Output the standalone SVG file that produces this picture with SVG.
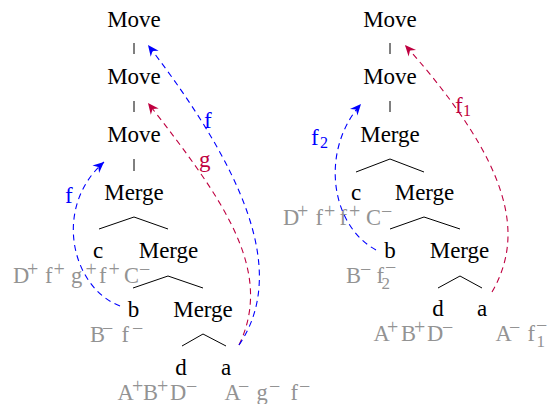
<svg xmlns="http://www.w3.org/2000/svg" width="554" height="404" viewBox="0 0 554 404" font-family="'Liberation Serif', 'Times New Roman', serif">
<style>
text{font-family:"Liberation Serif","Times New Roman",serif}
.n{font-size:23px;fill:#000;text-anchor:middle}
.g{font-size:22.5px;fill:#939393}
.g .s{font-size:20px}
.g .b{font-size:17px}
.e{stroke:#000;stroke-width:1;fill:none}
.c{fill:none;stroke-width:1.1;stroke-dasharray:6 4.5}
.blue{stroke:#0000ff}
.red{stroke:#bf0040}
.lb{font-size:23px}
.lb .b{font-size:16px}
</style>
<defs>
<marker id="ab" viewBox="-12 -6 13 12" refX="0" refY="0" markerWidth="13" markerHeight="12" markerUnits="userSpaceOnUse" orient="auto"><path d="M0,0 L-11,-5 L-7.5,0 L-11,5 Z" fill="#0000ff"/></marker>
<marker id="ar" viewBox="-12 -6 13 12" refX="0" refY="0" markerWidth="13" markerHeight="12" markerUnits="userSpaceOnUse" orient="auto"><path d="M0,0 L-11,-5 L-7.5,0 L-11,5 Z" fill="#bf0040"/></marker>
</defs>

<!-- Left tree -->
<g id="L_move1"><text class="n" x="134" y="27">Move</text></g>
<g id="L_move2"><text class="n" x="134" y="84">Move</text></g>
<g id="L_move3"><text class="n" x="134" y="142">Move</text></g>
<g id="L_merge1"><text class="n" x="134" y="200">Merge</text></g>
<g id="L_c"><text class="n" x="98" y="258">c</text>
<text class="g"><tspan x="13" y="283">D</tspan><tspan class="s" x="27" y="276">+</tspan><tspan x="45" y="283">f</tspan><tspan class="s" x="53.5" y="276">+</tspan><tspan x="71" y="283">g</tspan><tspan class="s" x="85.5" y="276">+</tspan><tspan x="99" y="283">f</tspan><tspan class="s" x="108.5" y="276">+</tspan><tspan x="124" y="283">C</tspan><tspan class="s" x="139" y="276">−</tspan></text></g>
<g id="L_merge2"><text class="n" x="168.5" y="258">Merge</text></g>
<g id="L_b"><text class="n" x="133.5" y="317">b</text>
<text class="g"><tspan x="90" y="342">B</tspan><tspan class="s" x="102" y="335">−</tspan><tspan x="121.5" y="342">f</tspan><tspan class="s" x="132" y="335">−</tspan></text></g>
<g id="L_merge3"><text class="n" x="203" y="317">Merge</text></g>
<g id="L_d"><text class="n" x="181" y="375">d</text>
<text class="g"><tspan x="117.5" y="400">A</tspan><tspan class="s" x="132" y="393">+</tspan><tspan x="143" y="400">B</tspan><tspan class="s" x="157" y="393">+</tspan><tspan x="170" y="400">D</tspan><tspan class="s" x="186" y="393">−</tspan></text></g>
<g id="L_a"><text class="n" x="226" y="375">a</text>
<text class="g"><tspan x="224.5" y="400">A</tspan><tspan class="s" x="238" y="393">−</tspan><tspan x="256.5" y="400">g</tspan><tspan class="s" x="269" y="393">−</tspan><tspan x="290.5" y="400">f</tspan><tspan class="s" x="299" y="393">−</tspan></text></g>

<!-- Right tree -->
<g id="R_move1"><text class="n" x="390" y="27">Move</text></g>
<g id="R_move2"><text class="n" x="390" y="84">Move</text></g>
<g id="R_merge1"><text class="n" x="390" y="142">Merge</text></g>
<g id="R_c"><text class="n" x="356" y="200">c</text>
<text class="g"><tspan x="283" y="225">D</tspan><tspan class="s" x="297" y="218">+</tspan><tspan x="315.5" y="225">f</tspan><tspan class="s" x="324" y="218">+</tspan><tspan x="339.5" y="225">f</tspan><tspan class="s" x="349" y="218">+</tspan><tspan x="366" y="225">C</tspan><tspan class="s" x="381" y="218">−</tspan></text></g>
<g id="R_merge2"><text class="n" x="424.5" y="200">Merge</text></g>
<g id="R_b"><text class="n" x="390" y="258">b</text>
<text class="g"><tspan x="346" y="283">B</tspan><tspan class="s" x="360" y="276">−</tspan><tspan x="376.5" y="283">f</tspan><tspan class="s" x="385" y="274">−</tspan><tspan class="b" x="381.5" y="289">2</tspan></text></g>
<g id="R_merge3"><text class="n" x="459.5" y="258">Merge</text></g>
<g id="R_d"><text class="n" x="438" y="316">d</text>
<text class="g"><tspan x="373.5" y="341">A</tspan><tspan class="s" x="387" y="334">+</tspan><tspan x="401" y="341">B</tspan><tspan class="s" x="414" y="334">+</tspan><tspan x="427" y="341">D</tspan><tspan class="s" x="442" y="334">−</tspan></text></g>
<g id="R_a"><text class="n" x="482" y="316">a</text>
<text class="g"><tspan x="495.5" y="341">A</tspan><tspan class="s" x="509" y="334">−</tspan><tspan x="527.5" y="341">f</tspan><tspan class="s" x="536" y="332">−</tspan><tspan class="b" x="536.5" y="347">1</tspan></text></g>

<!-- Tree edges -->
<g id="edges">
<path class="e" d="M134,43V54 M134,101V112 M134,159V171"/>
<path class="e" d="M99,229L134,217L168,229 M133,288L168,276L203,288 M182,346L203,334L226,346"/>
<path class="e" d="M390,43V54 M390,101V112"/>
<path class="e" d="M356,172L390,159L424,172 M390,229L424,217L460,229 M438,288L460,276L482,288"/>
</g>

<!-- Movement connectors -->
<g id="connectors">
<path class="c blue" d="M120,306 C72,288 52,208 104,162" marker-end="url(#ab)"/>
<path class="c red" d="M239,345 C275,270 222,198 148,103" marker-end="url(#ar)"/>
<path class="c blue" d="M239,345 C290,270 240,165 148,45" marker-end="url(#ab)"/>
<path class="c blue" d="M376,250 C330,225 320,150 361,104" marker-end="url(#ab)"/>
<path class="c red" d="M492,292 C525,235 512,165 405,45" marker-end="url(#ar)"/>
<text class="lb" x="65" y="203" fill="#0000ff">f</text>
<text class="lb" x="199" y="167" fill="#bf0040">g</text>
<text class="lb" x="204" y="128" fill="#0000ff">f</text>
<text class="lb" fill="#0000ff"><tspan x="311" y="145">f</tspan><tspan class="b" x="320" y="148">2</tspan></text>
<text class="lb" fill="#bf0040"><tspan x="455" y="113">f</tspan><tspan class="b" x="463" y="116">1</tspan></text>
</g>
</svg>
